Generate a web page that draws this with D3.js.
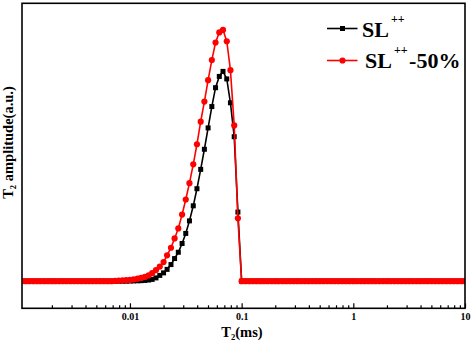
<!DOCTYPE html>
<html><head><meta charset="utf-8">
<script src="https://cdn.jsdelivr.net/npm/d3@7"></script>
<style>
html,body{margin:0;padding:0;background:#fff;}
svg{display:block;}
text{font-family:"Liberation Serif","Times New Roman",serif;font-weight:bold;fill:#000;}
</style></head>
<body>
<svg id="chart" width="474" height="349"></svg>
<script>
// T2 relaxation times (ms)
const t2 = [
0.00108,0.00117,0.00126,0.00136,0.00147,0.00158,0.00171,0.00185,0.00200,0.00215,
0.00233,0.00251,0.00271,0.00293,0.00316,0.00341,0.00369,0.00398,0.00430,0.00464,
0.00501,0.00541,0.00584,0.00631,0.00681,0.00736,0.00794,0.00858,0.00926,0.0100,
0.0108,0.0117,0.0126,0.0136,0.0147,0.0158,0.0171,0.0185,0.0200,0.0215,
0.0233,0.0251,0.0271,0.0293,0.0316,0.0341,0.0369,0.0398,0.0430,0.0464,
0.0501,0.0541,0.0584,0.0631,0.0681,0.0736,0.0794,0.0858,0.0926,0.100,
0.108,0.117,0.126,0.136,0.147,0.158,0.171,0.185,0.200,0.215,
0.233,0.251,0.271,0.293,0.316,0.341,0.369,0.398,0.430,0.464,
0.501,0.541,0.584,0.631,0.681,0.736,0.794,0.858,0.926,1.00,
1.08,1.17,1.26,1.36,1.47,1.58,1.71,1.85,2.00,2.15,
2.33,2.51,2.71,2.93,3.16,3.41,3.69,3.98,4.30,4.64,
5.01,5.41,5.84,6.31,6.81,7.36,7.94,8.58,9.26,10.0
];
// SL++ amplitudes
const slValues = [
0,0,0,0,0,0,0,0,0,0,
0,0,0,0,0,0,0,0,0,0,
0,0,0,0,0,0,0,0,0,0.05,
0.1,0.15,0.2,0.3,0.45,0.7,1.3,2.3,3.3,4.7,
6.6,9.0,11.5,15.0,19.0,24.0,30.0,36.8,44.5,52.5,
61.0,69.5,77.0,81.5,83.5,80.5,71.0,57.5,27.5,0,
0,0,0,0,0,0,0,0,0,0,
0,0,0,0,0,0,0,0,0,0,
0,0,0,0,0,0,0,0,0,0,
0,0,0,0,0,0,0,0,0,0,
0,0,0,0,0,0,0,0,0,0,
0,0,0,0,0,0,0,0,0,0
];
// SL++-50% amplitudes
const sl50Values = [
0,0,0,0,0,0,0,0,0,0,
0,0,0,0,0,0,0,0,0,0,
0,0,0,0,0,0.1,0.2,0.3,0.4,0.5,
0.7,1.0,1.3,1.7,2.3,3.2,4.4,5.8,7.6,10.3,
13.3,17.0,21.0,26.5,32.5,39.0,46.5,54.5,63.5,71.5,
80.0,88.0,95.0,99.0,100,95.5,84,62,25,0,
0,0,0,0,0,0,0,0,0,0,
0,0,0,0,0,0,0,0,0,0,
0,0,0,0,0,0,0,0,0,0,
0,0,0,0,0,0,0,0,0,0,
0,0,0,0,0,0,0,0,0,0,
0,0,0,0,0,0,0,0,0,0
];
const xMajorTicks = [0.01, 0.1, 1, 10];
const xMajorLabels = ["0.01", "0.1", "1", "10"];
const xMinorTicks = [0.002,0.003,0.004,0.005,0.006,0.007,0.008,0.009,
  0.02,0.03,0.04,0.05,0.06,0.07,0.08,0.09,
  0.2,0.3,0.4,0.5,0.6,0.7,0.8,0.9,
  2,3,4,5,6,7,8,9];
const xDomain = [0.00108, 10];
const yDomain = [-10.8, 110.6];

const L = 22, R = 465, T = 3.3, B = 308.3;
const svg = d3.select("#chart");
const x = d3.scaleLog().domain(xDomain).range([L, R]);
const y = d3.scaleLinear().domain(yDomain).range([B, T]);

svg.append("defs").append("clipPath").attr("id","clip")
  .append("rect").attr("x",L).attr("y",T).attr("width",R-L).attr("height",B-T);

const plot = svg.append("g").attr("clip-path","url(#clip)");

function drawSeries(vals, color, shape){
  const data = t2.map((t,i)=>({t, v: vals[i]}));
  plot.append("path").datum(data)
    .attr("fill","none").attr("stroke",color).attr("stroke-width",1.6)
    .attr("d", d3.line().x(d=>x(d.t)).y(d=>y(d.v)));
  if(shape==="square"){
    plot.selectAll(null).data(data).enter().append("rect")
      .attr("x",d=>x(d.t)-2.5).attr("y",d=>y(d.v)-2.5)
      .attr("width",5).attr("height",5).attr("fill",color);
  } else {
    plot.selectAll(null).data(data).enter().append("circle")
      .attr("cx",d=>x(d.t)).attr("cy",d=>y(d.v)).attr("r",3.1).attr("fill",color);
  }
}
drawSeries(slValues, "#000000", "square");
drawSeries(sl50Values, "#ff0000", "circle");

// axes
const axMinor = d3.axisBottom(x).tickValues(xMinorTicks).tickSizeInner(-3).tickSizeOuter(0).tickFormat("");
const axMajor = d3.axisBottom(x).tickValues(xMajorTicks).tickSizeInner(-5).tickSizeOuter(0)
  .tickPadding(5).tickFormat((d,i)=>xMajorLabels[i]);
const gMinor = svg.append("g").attr("transform",`translate(0,${B})`).call(axMinor);
const gMajor = svg.append("g").attr("transform",`translate(0,${B})`).call(axMajor);
[gMinor,gMajor].forEach(g=>{
  g.select(".domain").remove();
  g.selectAll(".tick line").attr("stroke","#000").attr("stroke-width",1.2);
});
gMajor.selectAll(".tick text").attr("font-size","10px")
  .attr("font-family","'Liberation Serif',serif").attr("font-weight","bold").attr("fill","#000");

// frame
svg.append("rect").attr("x",L).attr("y",T).attr("width",R-L).attr("height",B-T)
  .attr("fill","none").attr("stroke","#000").attr("stroke-width",1.6);

// x title
const xt = svg.append("text").attr("x",242).attr("y",337).attr("text-anchor","middle").attr("font-size","14.5px");
xt.append("tspan").text("T");
xt.append("tspan").attr("font-size","8.5px").attr("dy",3).text("2");
xt.append("tspan").attr("dy",-3).text("(ms)");

// y title
const yt = svg.append("text").attr("transform","translate(12.5,142.5) rotate(-90)")
  .attr("text-anchor","middle").attr("font-size","14.5px");
yt.append("tspan").text("T");
yt.append("tspan").attr("font-size","8.5px").attr("dy",3).text("2");
yt.append("tspan").attr("dy",-3).text(" amplitude(a.u.)");

// legend
const legendItems = [
  {name:"SL", sup:"++", tail:"", color:"#000000", shape:"square", ly:28.5, tx:362, ty:36.7},
  {name:"SL", sup:"++", tail:"-50%", color:"#ff0000", shape:"circle", ly:60.5, tx:365, ty:68.3}
];
const lg = svg.append("g");
legendItems.forEach(it=>{
  lg.append("line").attr("x1",327).attr("x2",357.5).attr("y1",it.ly).attr("y2",it.ly)
    .attr("stroke",it.color).attr("stroke-width",1.6);
  if(it.shape==="square"){
    lg.append("rect").attr("x",342.5-2.5).attr("y",it.ly-2.5).attr("width",5).attr("height",5).attr("fill",it.color);
  } else {
    lg.append("circle").attr("cx",342.5).attr("cy",it.ly).attr("r",3.1).attr("fill",it.color);
  }
  const tx = lg.append("text").attr("x",it.tx).attr("y",it.ty).attr("font-size","22px");
  tx.append("tspan").text(it.name);
  tx.append("tspan").attr("font-size","12px").attr("dx",2).attr("dy",-14).text(it.sup);
  if(it.tail) tx.append("tspan").attr("font-size","22px").attr("dx",1.5).attr("dy",14).text(it.tail);
});
</script>
</body></html>
